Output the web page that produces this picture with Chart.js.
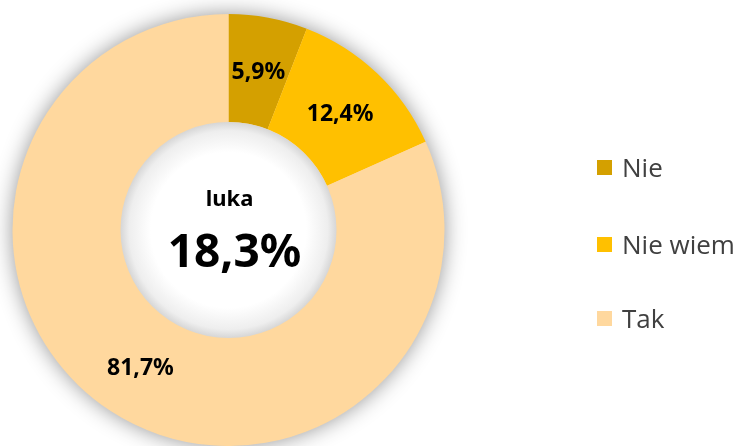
<!DOCTYPE html>
<html>
<head>
<meta charset="utf-8">
<script src="https://cdn.jsdelivr.net/npm/chart.js@4.4.1/dist/chart.umd.min.js"></script>
<style>
  html, body { margin: 0; padding: 0; background: #fff; }
  #wrap { position: relative; width: 741px; height: 446px; overflow: hidden; }
  #legenda { position: absolute; left: 597px; top: 0; font-family: "Open Sans", sans-serif; font-size: 26px; color: #404040; }
  .item { position: absolute; left: 0; white-space: nowrap; display: flex; align-items: center; height: 30px; }
  .item span.caixa { display: inline-block; width: 15px; height: 15px; margin-right: 10px; }
</style>
</head>
<body>
<div id="wrap">
  <canvas id="grafico" width="741" height="446"></canvas>
  <div id="legenda"></div>
</div>
<script>
// dados
const categorias = ["Nie", "Nie wiem", "Tak"];
const valores = [5.9, 12.4, 81.7];
const cores = ["#D4A000", "#FFC000", "#FFD89E"];
const tituloCentro = "luka";
const valorCentro = "18,3%";

function formatar(v) {
  return v.toFixed(1).replace(".", ",") + "%";
}

// sombra externa + círculo interno + rótulos
const pluginRosca = {
  id: "rosca",
  beforeDatasetsDraw(chart) {
    const arc = chart.getDatasetMeta(0).data[0];
    if (!arc) return;
    const ctx = chart.ctx;
    ctx.save();
    ctx.beginPath();
    ctx.arc(arc.x, arc.y, arc.outerRadius - 1, 0, Math.PI * 2);
    ctx.shadowColor = "rgba(0,0,0,0.45)";
    ctx.shadowBlur = 22;
    ctx.fillStyle = "#ffd89e";
    ctx.fill();
    ctx.restore();
  },
  afterDatasetsDraw(chart) {
    const meta = chart.getDatasetMeta(0);
    const arc = meta.data[0];
    if (!arc) return;
    const ctx = chart.ctx;
    const r = arc.innerRadius;
    ctx.save();
    const grad = ctx.createRadialGradient(arc.x, arc.y, 0, arc.x, arc.y, r);
    grad.addColorStop(0, "#ffffff");
    grad.addColorStop(0.72, "#ffffff");
    grad.addColorStop(0.92, "#eeeeee");
    grad.addColorStop(1, "#d6d6d6");
    ctx.beginPath();
    ctx.arc(arc.x, arc.y, r, 0, Math.PI * 2);
    ctx.fillStyle = grad;
    ctx.fill();

    ctx.fillStyle = "#000";
    ctx.textAlign = "center";
    ctx.textBaseline = "middle";
    ctx.font = "bold 23px 'Noto Sans', sans-serif";
    meta.data.forEach((el, i) => {
      const p = el.tooltipPosition();
      ctx.fillText(formatar(valores[i]), p.x, p.y + 2);
    });

    ctx.font = "bold 22px 'Noto Sans', sans-serif";
    ctx.fillText(tituloCentro, arc.x + 1, arc.y - 30);
    ctx.font = "bold 46px 'Noto Sans', sans-serif";
    ctx.fillText(valorCentro, arc.x + 6, arc.y + 24);
    ctx.restore();
  }
};

new Chart(document.getElementById("grafico"), {
  type: "doughnut",
  data: {
    labels: categorias,
    datasets: [{
      data: valores,
      backgroundColor: cores,
      borderWidth: 0,
      hoverOffset: 0
    }]
  },
  options: {
    responsive: false,
    animation: false,
    cutout: "50%",
    layout: { padding: { left: 12, right: 296, top: 14, bottom: 0 } },
    plugins: {
      legend: { display: false },
      tooltip: { enabled: false }
    }
  },
  plugins: [pluginRosca]
});

// legenda
const legenda = document.getElementById("legenda");
const posY = [152, 229, 303];
categorias.forEach((nome, i) => {
  const div = document.createElement("div");
  div.className = "item";
  div.style.top = posY[i] + "px";
  div.innerHTML = `<span class="caixa" style="background:${cores[i]}"></span>${nome}`;
  legenda.appendChild(div);
});
</script>
</body>
</html>
